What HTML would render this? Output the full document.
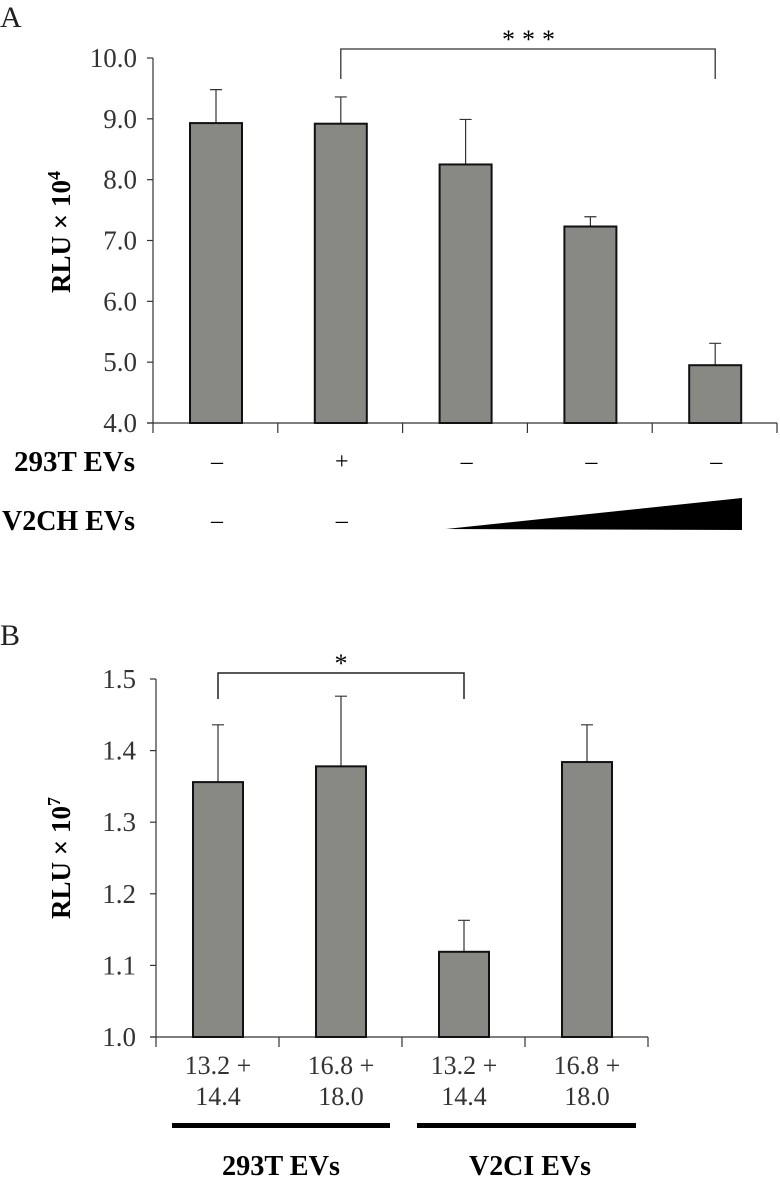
<!DOCTYPE html>
<html><head><meta charset="utf-8"><style>
html,body{margin:0;padding:0;background:#fff;}
svg{display:block;font-family:"Liberation Serif",serif;}
</style></head><body>
<svg id="chart" width="780" height="1180" viewBox="0 0 780 1180" xmlns="http://www.w3.org/2000/svg">
<rect x="0" y="0" width="780" height="1180" fill="#fff"/>
<g id="pa"></g>
<g id="pb"></g>
</svg>
<script>
const aValues = [8.93, 8.92, 8.25, 7.23, 4.95];
const aErrors = [9.48, 9.36, 8.99, 7.39, 5.31];
const aTicks = ["4.0","5.0","6.0","7.0","8.0","9.0","10.0"];
const a293T = ["–","+","–","–","–"];
const aV2CH = ["–","–"];
const bValues = [1.356, 1.378, 1.119, 1.384];
const bErrors = [1.436, 1.476, 1.163, 1.436];
const bTicks = ["1.0","1.1","1.2","1.3","1.4","1.5"];
const bCatLine1 = ["13.2 +","16.8 +","13.2 +","16.8 +"];
const bCatLine2 = ["14.4","18.0","14.4","18.0"];

const NS="http://www.w3.org/2000/svg";
function mk(parent,tag,attrs,text){const e=document.createElementNS(NS,tag);for(const k in attrs)e.setAttribute(k,attrs[k]);if(text!==undefined)e.textContent=text;parent.appendChild(e);return e;}

// Panel A
const pa=document.getElementById('pa');
const aY=v=>423-(v-4)*(423-58)/6;
const aX=i=>216+i*124.8;
const aL=153, aR=777;
let t=mk(pa,'text',{x:0,y:27,'font-size':30,fill:'#222'});t.textContent='A';


let ax=mk(pa,'line',{x1:aL,y1:58,x2:aL,y2:423,stroke:'#333','stroke-width':1.2});


let bx=mk(pa,'line',{x1:aL-6,y1:423,x2:aR,y2:423,stroke:'#333','stroke-width':1.2});


aTicks.forEach((lab,i)=>{const v=parseFloat(lab);const y=aY(v);
 mk(pa,'line',{x1:aL-6,y1:y,x2:aL,y2:y,stroke:'#333','stroke-width':1.2});
 const tx=mk(pa,'text',{x:aL-16,y:y+9,'font-size':27,'text-anchor':'end',fill:'#333'},lab);
 
 });
for(let i=0;i<=5;i++){const x=aL+i*124.8;mk(pa,'line',{x1:x,y1:423,x2:x,y2:433,stroke:'#333','stroke-width':1.2});}
let yt=mk(pa,'text',{x:0,y:0,'font-size':27,'font-weight':'bold','text-anchor':'middle',transform:'translate(70,232) rotate(-90)'});
yt.innerHTML='RLU × 10<tspan dy="-10" font-size="18">4</tspan>';


aValues.forEach((v,i)=>{const cx=aX(i);
 const eb=mk(pa,'path',{d:`M${cx},${aY(v)} V${aY(aErrors[i])} M${cx-6},${aY(aErrors[i])} H${cx+6}`,stroke:'#333','stroke-width':1.2,fill:'none'});
 
 
 const r=mk(pa,'rect',{x:cx-26,y:aY(v),width:52,height:423-aY(v),fill:'#888884',stroke:'#111','stroke-width':2});
 
 });
let br=mk(pa,'path',{d:`M${aX(1)},79 V49 H${aX(4)} V79`,stroke:'#333','stroke-width':1.3,fill:'none'});


let st=mk(pa,'text',{x:(aX(1)+aX(4))/2+4,y:48,'font-size':26,'text-anchor':'middle','letter-spacing':'7'},'***');


let r1=mk(pa,'text',{x:135,y:471,'font-size':28,'font-weight':'bold','text-anchor':'end',textLength:121,lengthAdjust:'spacingAndGlyphs'},'293T EVs');


let r2=mk(pa,'text',{x:135,y:530,'font-size':28,'font-weight':'bold','text-anchor':'end',textLength:133,lengthAdjust:'spacingAndGlyphs'},'V2CH EVs');


a293T.forEach((s,i)=>{const e=mk(pa,'text',{x:aX(i)+1,y:469,'font-size':24,'text-anchor':'middle'},s);
 
 });
aV2CH.forEach((s,i)=>{const e=mk(pa,'text',{x:aX(i)+1,y:528,'font-size':24,'text-anchor':'middle'},s);
 
 });
let tri=mk(pa,'polygon',{points:'446,529 742,498 742,530',fill:'#000'});



// Panel B
const pb=document.getElementById('pb');
const bY=v=>1037-(v-1.0)*(1037-679)/0.5;
const bX=i=>218+i*123;
const bL=156, bR=648;
t=mk(pb,'text',{x:0,y:645,'font-size':30,fill:'#222'},'B');


ax=mk(pb,'line',{x1:bL,y1:679,x2:bL,y2:1037,stroke:'#333','stroke-width':1.2});


bx=mk(pb,'line',{x1:bL-6,y1:1037,x2:bR,y2:1037,stroke:'#333','stroke-width':1.2});


bTicks.forEach(lab=>{const y=bY(parseFloat(lab));
 mk(pb,'line',{x1:bL-6,y1:y,x2:bL,y2:y,stroke:'#333','stroke-width':1.2});
 const tx=mk(pb,'text',{x:bL-20,y:y+9,'font-size':27,'text-anchor':'end',fill:'#333'},lab);
 
 });
for(let i=0;i<=4;i++){const x=bL+i*123;mk(pb,'line',{x1:x,y1:1037,x2:x,y2:1047,stroke:'#333','stroke-width':1.2});}
yt=mk(pb,'text',{x:0,y:0,'font-size':27,'font-weight':'bold','text-anchor':'middle',transform:'translate(70,858) rotate(-90)'});
yt.innerHTML='RLU × 10<tspan dy="-10" font-size="18">7</tspan>';


bValues.forEach((v,i)=>{const cx=bX(i);
 const eb=mk(pb,'path',{d:`M${cx},${bY(v)} V${bY(bErrors[i])} M${cx-6},${bY(bErrors[i])} H${cx+6}`,stroke:'#333','stroke-width':1.2,fill:'none'});
 
 
 const r=mk(pb,'rect',{x:cx-25,y:bY(v),width:50,height:1037-bY(v),fill:'#888884',stroke:'#111','stroke-width':2});
 
 
 const l1=mk(pb,'text',{x:cx,y:1074,'font-size':26,'text-anchor':'middle',fill:'#333'},bCatLine1[i]);
 
 
 const l2=mk(pb,'text',{x:cx,y:1105,'font-size':26,'text-anchor':'middle',fill:'#333'},bCatLine2[i]);
 
 });
br=mk(pb,'path',{d:`M${bX(0)},699 V673 H${bX(2)} V699`,stroke:'#222','stroke-width':1.5,fill:'none'});


st=mk(pb,'text',{x:(bX(0)+bX(2))/2,y:672,'font-size':26,'text-anchor':'middle'},'*');


let g1=mk(pb,'rect',{x:172,y:1123,width:218,height:5,fill:'#000'});


let g2=mk(pb,'rect',{x:417,y:1123,width:219,height:5,fill:'#000'});


let gl1=mk(pb,'text',{x:281,y:1175,'font-size':28,'font-weight':'bold','text-anchor':'middle',textLength:118,lengthAdjust:'spacingAndGlyphs'},'293T EVs');


let gl2=mk(pb,'text',{x:530,y:1175,'font-size':28,'font-weight':'bold','text-anchor':'middle',textLength:122,lengthAdjust:'spacingAndGlyphs'},'V2CI EVs');


</script>
</body></html>
